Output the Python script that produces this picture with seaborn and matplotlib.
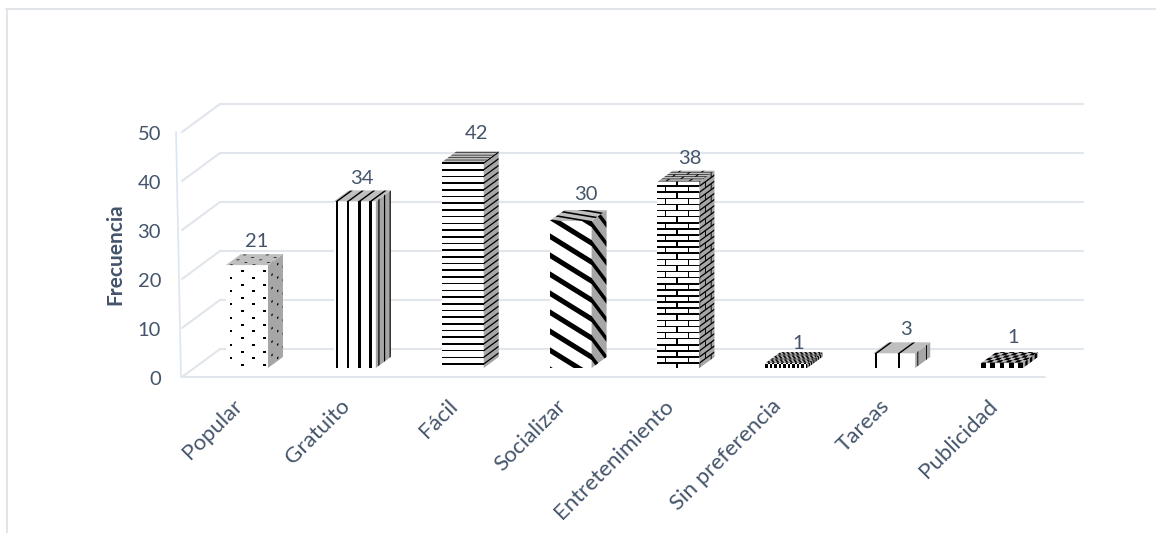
import numpy as np
import pandas as pd
import matplotlib
matplotlib.use("Agg")
import matplotlib.pyplot as plt
import seaborn as sns
from matplotlib.collections import PolyCollection
from matplotlib.lines import Line2D
from matplotlib.path import Path
from matplotlib.transforms import IdentityTransform, Affine2D

categories = ["Popular", "Gratuito", "Fácil", "Socializar", "Entretenimiento",
              "Sin preferencia", "Tareas", "Publicidad"]
values = [21, 34, 42, 30, 38, 1, 3, 1]
y_ticks = [0, 10, 20, 30, 40, 50]
y_title = "Frecuencia"
patterns = ["dots", "vstripes", "hstripes", "diag", "brick", "fine", "vwide", "coarse"]
label_shift = [(10, 13), (7, 12), (14, 18), (15, 16), (11, 12), (12, 9), (12, 13), (11, 15)]
pattern_depth = {"diag": 50.0, "vwide": 40.0}

W, H = 1156, 533
TEXT = "#44546A"
GRID = "#E1E5EC"
FRAME = "#E1E5EA"

sns.set_style("white")
plt.rcParams["font.family"] = ["Lato", "DejaVu Sans"]
fig = plt.figure(figsize=(W / 100, H / 100), dpi=100)
ax = fig.add_axes([193 / W, (H - 368) / H, 863 / W, 245 / H])
ax.patch.set_alpha(0)
df = pd.DataFrame({"cat": categories, "val": values})
sns.barplot(data=df, x="cat", y="val", color="white", saturation=1, width=0.39,
            ax=ax, edgecolor="none", errorbar=None)
ax.set_xlim(-0.5, 7.5)
ax.set_ylim(0, 50)
ax.set_xlabel("")
ax.set_ylabel("")
sns.despine(ax=ax, left=True, bottom=True)
ax.set_yticks(y_ticks)
ax.tick_params(axis="both", length=0, labelcolor=TEXT)
ax.tick_params(axis="y", pad=23, labelsize=14.5)
ax.tick_params(axis="x", pad=20, labelsize=16)
ax.set_xticks(range(len(categories)))
ax.set_xticklabels(categories, rotation=45, ha="right", rotation_mode="anchor")
shift_y = Affine2D().translate(0, -10)
for lab in ax.get_yticklabels():
    lab.set_transform(lab.get_transform() + shift_y)
shift_x = Affine2D().translate(-15, 0)
for lab in ax.get_xticklabels():
    lab.set_transform(lab.get_transform() + shift_x)

ident = IdentityTransform()
to_px = ax.transData.transform
# walls: offset of the front and back planes relative to the plane of the bars
FX, FY = -11, -9
BX, BY = 27, 19
x_l = to_px((-0.5, 0))[0]
x_r = to_px((7.5, 0))[0]


def wall(xs, ys, color=GRID, lw=1.5):
    ax.add_line(Line2D(xs, ys, color=color, lw=lw, transform=ident,
                       clip_on=False, zorder=0.5))


for t in y_ticks:
    y = to_px((0, t))[1]
    wall([x_l + FX, x_l + BX], [y + FY, y + BY])
    wall([x_l + BX, x_r + BX], [y + BY, y + BY])
y0_px, y50_px = to_px((0, 0))[1], to_px((0, 50))[1]
wall([x_l + FX, x_r + FX], [y0_px + FY, y0_px + FY])
wall([x_l + FX - 6, x_l + FX - 1], [y50_px + FY, y0_px + FY], color="#DCE6F2", lw=1.2)


def rect(u0, u1, v0, v1):
    return [(u0, v0), (u1, v0), (u1, v1), (u0, v1)]


def checker(cu, cv, u1, v1):
    out = []
    for j in range(int(v1 / cv) + 2):
        for i in range(int(u1 / cu) + 2):
            if (i + j) % 2 == 0:
                out.append(rect(i * cu, (i + 1) * cu, j * cv, (j + 1) * cv))
    return out


def pattern_polys(kind, u1, v1):
    out = []
    if kind == "dots":
        for i in range(int(u1 / 11.3) + 1):
            off = 3 if i % 2 else 10
            for j in range(int(v1 / 13.4) + 2):
                u = 5 + i * 11.3
                v = off + j * 13.4
                out.append(rect(u - 1.4, u + 1.4, v - 1.0, v + 1.0))
    elif kind == "vstripes":
        for i in range(int(u1 / 11.3) + 1):
            u = 3 + i * 11.3
            out.append(rect(u - 1.2, u + 1.2, 0, v1))
    elif kind == "vwide":
        for i in range(int(u1 / 23.0) + 1):
            u = 3 + i * 23.0
            out.append(rect(u - 1.2, u + 1.2, 0, v1))
    elif kind == "hstripes":
        for j in range(int(v1 / 6.7) + 1):
            v = 4 + j * 6.7
            out.append(rect(0, u1, v - 0.8, v + 0.8))
    elif kind == "diag":
        slope = 0.62
        for j in range(int((v1 + slope * u1) / 19) + 2):
            c = j * 19 - 4
            out.append([(0, c), (u1, c - slope * u1),
                        (u1, c - slope * u1 + 6), (0, c + 6)])
    elif kind == "brick":
        rh = 6.1
        bw = 23.0
        for j in range(int(v1 / rh) + 1):
            v = 5 + j * rh
            out.append(rect(0, u1, v - 0.8, v + 0.8))
        for j in range(-1, int(v1 / rh) + 1):
            v = 5 + j * rh
            off = 8 if j % 2 == 0 else 8 + bw / 2
            for i in range(-1, int(u1 / bw) + 1):
                u = off + i * bw
                out.append(rect(u - 0.9, u + 0.9, v, v + rh))
    elif kind == "fine":
        out = checker(2.25, 3.6, u1, v1)
    elif kind == "coarse":
        out = checker(4.65, 6.5, u1, v1)
    return out


SIDE_BG = "#A6A6A6"
TOP_BG = "#BFBFBF"

for bar, kind, val, (lx, ly) in zip(ax.patches, patterns, values, label_shift):
    (x0, yb) = to_px((bar.get_x(), 0))
    (x1, yt) = to_px((bar.get_x() + bar.get_width(), val))
    bw, bh = x1 - x0, yt - yb
    depth = pattern_depth.get(kind, 30.0)
    sx, sy = 15.0 / depth, 11.0 / depth
    u1, v1 = bw + depth, bh + depth

    def front_map(p):
        return (x0 + p[0], yb + p[1])

    def side_map(p):
        return (x1 + (p[0] - bw) * sx, yb + p[1] + (p[0] - bw) * sy)

    def top_map(p):
        return (x0 + p[0] + (p[1] - bh) * sx, yt + (p[1] - bh) * sy)

    faces = [
        ([(x0, yb), (x1, yb), (x1, yt), (x0, yt)], "white", front_map),
        ([(x1, yb), (x1 + 15, yb + 11), (x1 + 15, yt + 11), (x1, yt)], SIDE_BG, side_map),
        ([(x0, yt), (x1, yt), (x1 + 15, yt + 11), (x0 + 15, yt + 11)], TOP_BG, top_map),
    ]
    polys = pattern_polys(kind, u1, v1)
    for corners, bg, mapper in faces:
        base = PolyCollection([corners], facecolors=bg, edgecolors="none",
                              transform=ident, zorder=2)
        base.set_clip_on(False)
        ax.add_collection(base, autolim=False)
        mapped = [[mapper(p) for p in poly] for poly in polys]
        coll = PolyCollection(mapped, facecolors="black", edgecolors="none",
                              transform=ident, zorder=3)
        coll.set_clip_path(Path(corners + [corners[0]]), ident)
        ax.add_collection(coll, autolim=False)
    ax.annotate(str(val), xy=(bar.get_x() + bar.get_width() / 2, val),
                xytext=(lx, 11 + ly), textcoords="offset pixels",
                ha="center", va="center", fontsize=14.5, color=TEXT,
                annotation_clip=False, zorder=5)

fig.text(115 / W, (H - 254) / H, y_title, rotation=90, ha="center", va="center",
         fontsize=15, fontweight="bold", color=TEXT)

for xs, ys_ in [([6, W], [H - 9, H - 9]), ([6.5, 6.5], [H - 9, 0])]:
    fig.add_artist(Line2D(xs, ys_, color=FRAME, lw=1.4, transform=ident))

fig.savefig("out.png", dpi=100)
